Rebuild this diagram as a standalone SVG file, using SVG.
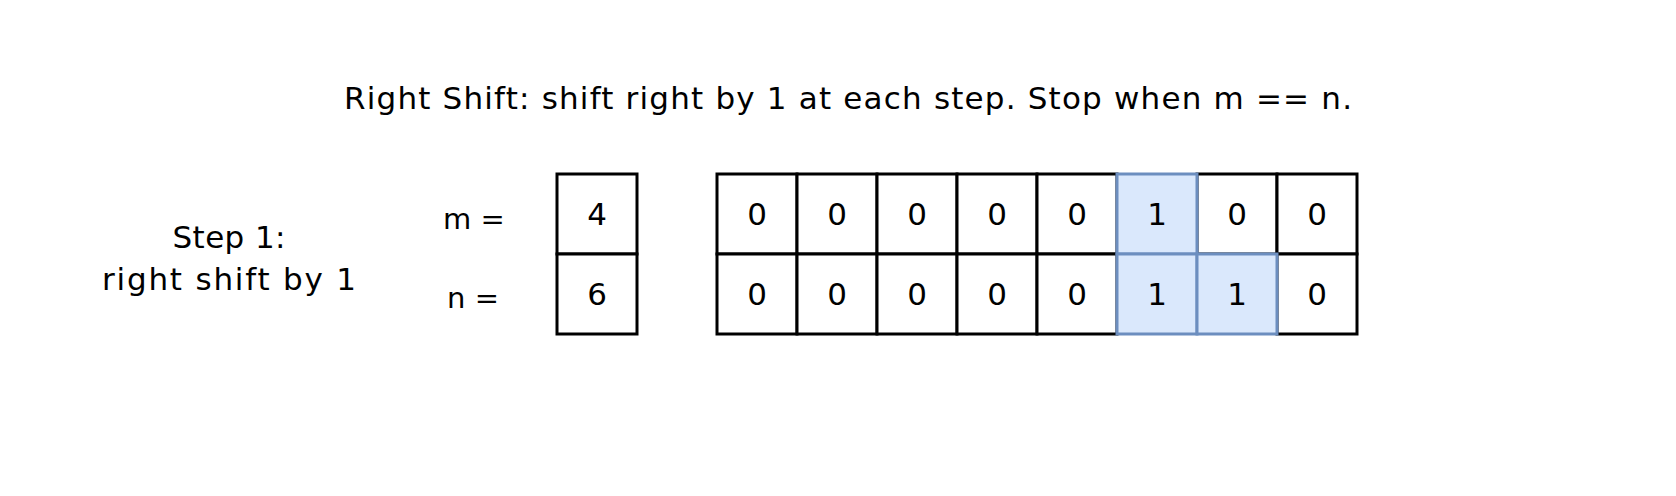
<svg xmlns="http://www.w3.org/2000/svg" width="1676" height="496" viewBox="0 0 1676 496">
<style>
text{font-family:"Comic Sans MS","DejaVu Sans",sans-serif;fill:#000;text-anchor:middle;dominant-baseline:central}
.t{font-size:31px}
.l{font-size:29px}
.d{font-size:31px}
.c{fill:#fff;stroke:#000;stroke-width:3}
.h{fill:#dae8fc;stroke:#6c8ebf;stroke-width:3}
</style>
<rect width="1676" height="496" fill="#fff"/>
<g id="title"><text class="t" x="848" y="98" textLength="1008" lengthAdjust="spacing">Right Shift: shift right by 1 at each step. Stop when m == n.</text></g>
<g id="step"><text class="t" x="229" y="237" textLength="113" lengthAdjust="spacing">Step 1:</text><text class="t" x="229" y="279" textLength="254" lengthAdjust="spacing">right shift by 1</text></g>
<g id="labels"><text class="l" x="474" y="219">m =</text><text class="l" x="473" y="298">n =</text></g>
<g id="mn">
<rect class="c" x="557" y="174" width="80" height="80"/><text class="d" x="597" y="214">4</text>
<rect class="c" x="557" y="254" width="80" height="80"/><text class="d" x="597" y="294">6</text>
</g>
<g id="row-m">
<rect class="c" x="717" y="174" width="80" height="80"/><text class="d" x="757" y="214">0</text>
<rect class="c" x="797" y="174" width="80" height="80"/><text class="d" x="837" y="214">0</text>
<rect class="c" x="877" y="174" width="80" height="80"/><text class="d" x="917" y="214">0</text>
<rect class="c" x="957" y="174" width="80" height="80"/><text class="d" x="997" y="214">0</text>
<rect class="c" x="1037" y="174" width="80" height="80"/><text class="d" x="1077" y="214">0</text>
<rect class="c" x="1197" y="174" width="80" height="80"/><text class="d" x="1237" y="214">0</text>
<rect class="c" x="1277" y="174" width="80" height="80"/><text class="d" x="1317" y="214">0</text>
</g>
<g id="row-n">
<rect class="c" x="717" y="254" width="80" height="80"/><text class="d" x="757" y="294">0</text>
<rect class="c" x="797" y="254" width="80" height="80"/><text class="d" x="837" y="294">0</text>
<rect class="c" x="877" y="254" width="80" height="80"/><text class="d" x="917" y="294">0</text>
<rect class="c" x="957" y="254" width="80" height="80"/><text class="d" x="997" y="294">0</text>
<rect class="c" x="1037" y="254" width="80" height="80"/><text class="d" x="1077" y="294">0</text>
<rect class="c" x="1277" y="254" width="80" height="80"/><text class="d" x="1317" y="294">0</text>
</g>
<g id="highlight">
<rect class="h" x="1117" y="174" width="80" height="80"/><text class="d" x="1157" y="214">1</text>
<rect class="h" x="1117" y="254" width="80" height="80"/><text class="d" x="1157" y="294">1</text>
<rect class="h" x="1197" y="254" width="80" height="80"/><text class="d" x="1237" y="294">1</text>
</g>
</svg>
